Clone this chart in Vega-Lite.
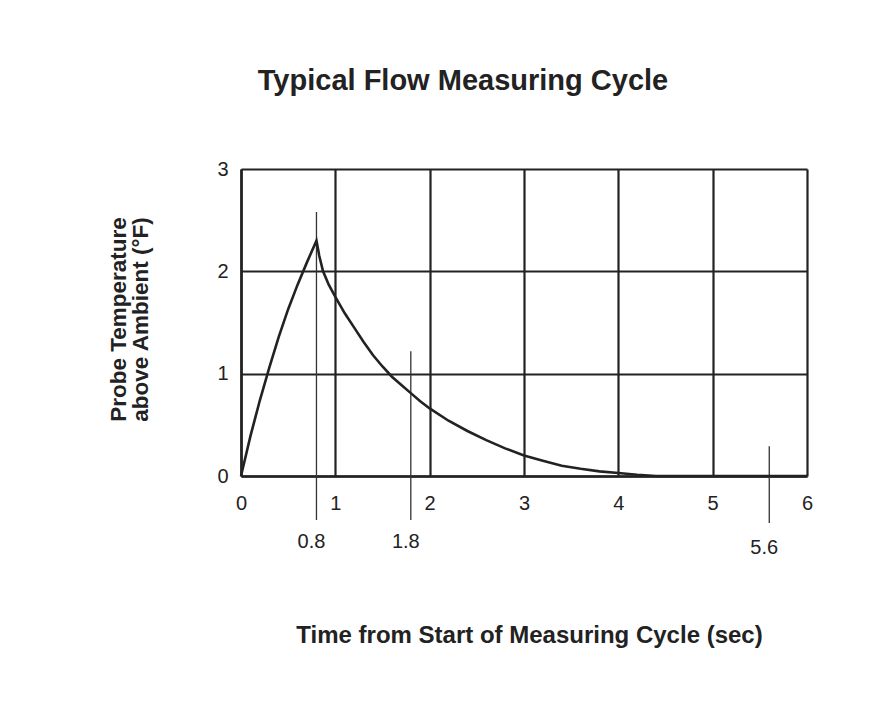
{
  "$schema": "https://vega.github.io/schema/vega-lite/v6.json",
  "width": 566,
  "height": 307,
  "autosize": {"type": "none"},
  "padding": {"left": 241, "top": 169, "right": 82, "bottom": 226},
  "background": "white",
  "config": {
    "view": {"stroke": null},
    "font": "Liberation Sans"
  },
  "title": {
    "text": "Typical Flow Measuring Cycle",
    "fontSize": 29,
    "fontWeight": "bold",
    "font": "Liberation Sans",
    "color": "#222",
    "anchor": "middle",
    "dx": -61,
    "offset": 63
  },
  "datasets": {
    "curve": [
      {"t": 0, "temp": 0},
      {"t": 0.1, "temp": 0.39},
      {"t": 0.2, "temp": 0.74},
      {"t": 0.3, "temp": 1.06},
      {"t": 0.4, "temp": 1.36},
      {"t": 0.5, "temp": 1.63},
      {"t": 0.6, "temp": 1.87},
      {"t": 0.7, "temp": 2.09},
      {"t": 0.8, "temp": 2.3},
      {"t": 0.83, "temp": 2.15},
      {"t": 0.87, "temp": 2.0},
      {"t": 0.93, "temp": 1.87},
      {"t": 1.0, "temp": 1.75},
      {"t": 1.1, "temp": 1.59},
      {"t": 1.2, "temp": 1.45},
      {"t": 1.3, "temp": 1.31},
      {"t": 1.4, "temp": 1.18},
      {"t": 1.5, "temp": 1.07},
      {"t": 1.6, "temp": 0.97},
      {"t": 1.7, "temp": 0.89},
      {"t": 1.8, "temp": 0.81},
      {"t": 1.9, "temp": 0.73},
      {"t": 2.0, "temp": 0.66},
      {"t": 2.2, "temp": 0.54},
      {"t": 2.4, "temp": 0.44},
      {"t": 2.6, "temp": 0.35},
      {"t": 2.8, "temp": 0.27},
      {"t": 3.0, "temp": 0.2},
      {"t": 3.2, "temp": 0.15},
      {"t": 3.4, "temp": 0.1},
      {"t": 3.6, "temp": 0.07},
      {"t": 3.8, "temp": 0.045},
      {"t": 4.0, "temp": 0.03},
      {"t": 4.2, "temp": 0.012},
      {"t": 4.4, "temp": 0},
      {"t": 6.0, "temp": 0}
    ],
    "markers": [
      {"t": 0.8, "top": 2.58, "bottom": -0.43, "labelY": -0.645, "label": "0.8"},
      {"t": 1.8, "top": 1.22, "bottom": -0.43, "labelY": -0.645, "label": "1.8"},
      {"t": 5.6, "top": 0.29, "bottom": -0.46, "labelY": -0.7, "label": "5.6"}
    ]
  },
  "encoding": {},
  "layer": [
    {
      "data": {"name": "markers"},
      "mark": {"type": "rule", "color": "#333", "strokeWidth": 1.3},
      "encoding": {
        "x": {
          "field": "t",
          "type": "quantitative",
          "scale": {"domain": [0, 6], "nice": false, "zero": false},
          "axis": {
            "values": [0, 1, 2, 3, 4, 5, 6],
            "format": "d",
            "ticks": false,
            "domain": true,
            "domainColor": "#222",
            "domainWidth": 2.5,
            "grid": true,
            "gridColor": "#222",
            "gridWidth": 2.2,
            "gridOpacity": 1,
            "labelFont": "Liberation Sans",
            "labelFontSize": 20,
            "labelColor": "#222",
            "labelPadding": 17,
            "labelFlush": false,
            "title": "Time from Start of Measuring Cycle (sec)",
            "titleFont": "Liberation Sans",
            "titleFontSize": 24,
            "titleFontWeight": "bold",
            "titleColor": "#222",
            "titleX": 288,
            "titleY": 166,
            "titleBaseline": "alphabetic",
            "titleAlign": "center"
          }
        },
        "y": {
          "field": "top",
          "type": "quantitative",
          "scale": {"domain": [0, 3], "nice": false, "zero": false},
          "axis": {
            "values": [0, 1, 2, 3],
            "format": "d",
            "ticks": false,
            "domain": true,
            "domainColor": "#222",
            "domainWidth": 2.5,
            "grid": true,
            "gridColor": "#222",
            "gridWidth": 2.2,
            "gridOpacity": 1,
            "labelFont": "Liberation Sans",
            "labelFontSize": 20,
            "labelColor": "#222",
            "labelPadding": 13,
            "labelFlush": false,
            "title": ["Probe Temperature", "above Ambient (°F)"],
            "titleFont": "Liberation Sans",
            "titleFontSize": 22.5,
            "titleFontWeight": "bold",
            "titleColor": "#222",
            "titleLineHeight": 22,
            "titleAngle": -90,
            "titleX": -116,
            "titleY": 150,
            "titleBaseline": "alphabetic",
            "titleAlign": "center"
          }
        },
        "y2": {"field": "bottom"}
      }
    },
    {
      "data": {"name": "markers"},
      "mark": {"type": "text", "fontSize": 20, "font": "Liberation Sans", "color": "#222", "baseline": "middle", "align": "center", "dx": -5},
      "encoding": {
        "x": {"field": "t", "type": "quantitative"},
        "y": {"field": "labelY", "type": "quantitative"},
        "text": {"field": "label"}
      }
    },
    {
      "data": {"name": "curve"},
      "mark": {"type": "line", "color": "#222", "strokeWidth": 2.6, "interpolate": "linear"},
      "encoding": {
        "x": {"field": "t", "type": "quantitative"},
        "y": {"field": "temp", "type": "quantitative"}
      }
    }
  ]
}
